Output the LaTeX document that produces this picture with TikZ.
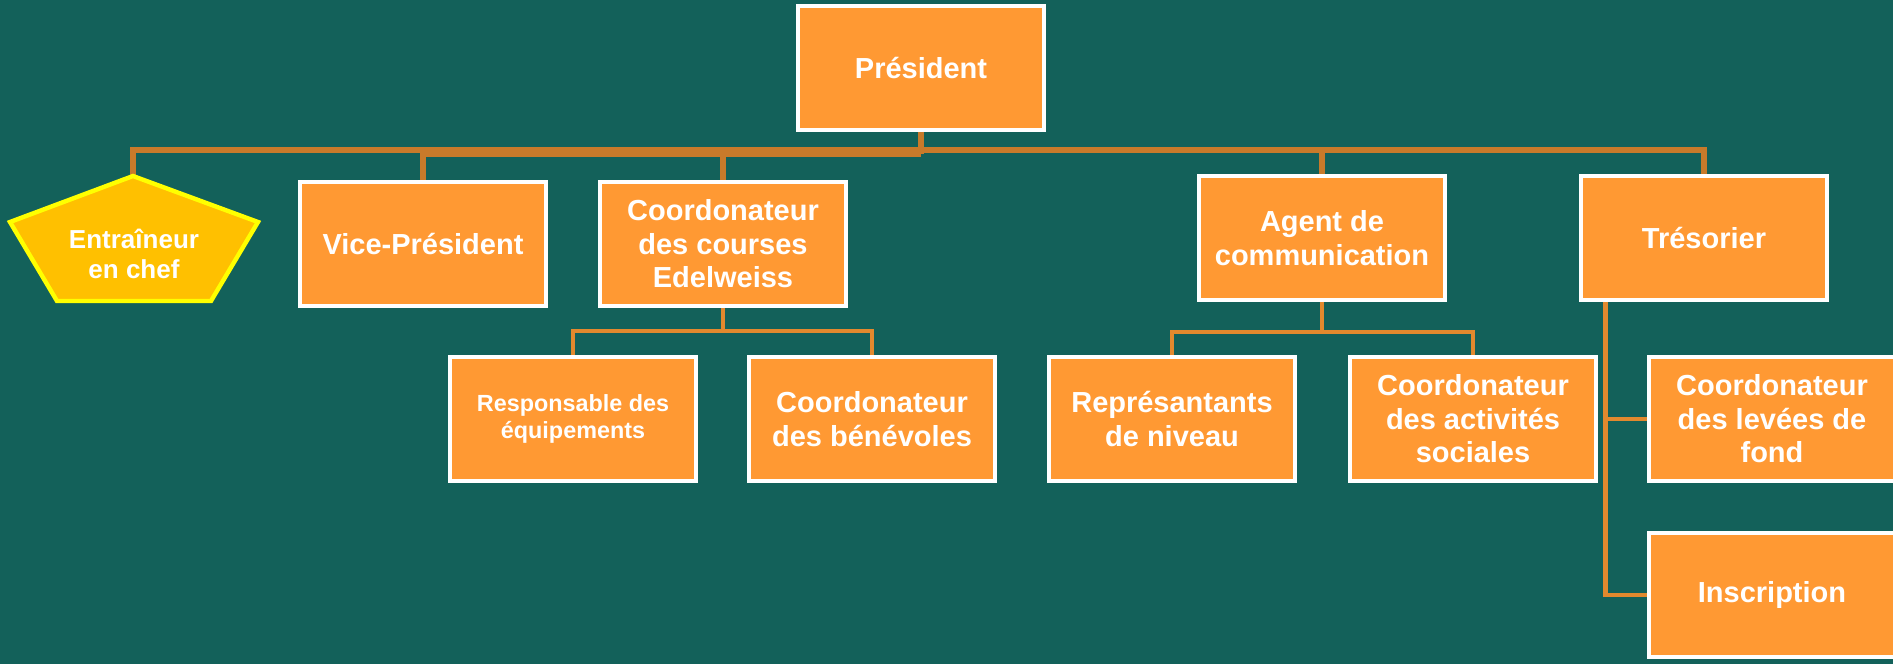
\documentclass[tikz,border=0pt]{standalone}
\usepackage{fontspec}
\setmainfont{Liberation Sans}
\usepackage{tikz}
\definecolor{boardteal}{RGB}{19,97,90}
\definecolor{postorange}{RGB}{255,153,51}
\definecolor{linkbrown}{RGB}{200,122,42}
\definecolor{linkorange}{RGB}{226,137,46}
\definecolor{coachgold}{RGB}{255,192,0}
\definecolor{coachedge}{RGB}{255,255,0}
\pgfdeclarelayer{board}
\pgfdeclarelayer{links}
\pgfsetlayers{board,links,main}
\tikzstyle{postbox} = [rectangle, fill=postorange, draw=white, line width=2.5pt, minimum width=4.93cm, minimum height=2.48cm, inner sep=2pt, align=center, text=white, font=\bfseries\fontsize{16.5}{19}\selectfont]
\tikzstyle{smalltext} = [font=\bfseries\fontsize{13.3}{15}\selectfont]
\tikzstyle{coachshape} = [fill=coachgold, draw=coachedge, line width=2.5pt, line join=miter]
\tikzstyle{coachtext} = [align=center, text=white, font=\bfseries\fontsize{14.8}{17}\selectfont]
\tikzstyle{topbus} = [draw=linkbrown, line width=3pt]
\tikzstyle{subbus} = [draw=linkorange, line width=2.4pt]
\newcommand{\rolebox}[3]{\node [postbox] (#1) at #2 {#3};}

\begin{document}
\begin{tikzpicture}[x=0.02cm, y=-0.02cm]
            \begin{pgfonlayer}{board}
            \fill[boardteal] (0,0) rectangle (1893,664);
            \end{pgfonlayer}
            \useasboundingbox (0,0) rectangle (1893,664);
            \rolebox{pres}{(921,68)}{Président}
            \rolebox{vp}{(423,244)}{Vice-Président}
            \rolebox{cc}{(723,244)}{Coordonateur\\des courses\\Edelweiss}
            \rolebox{agent}{(1322,238)}{Agent de\\communication}
            \rolebox{treso}{(1704,238)}{Trésorier}
            \node [postbox, smalltext] (resp) at (573,419) {Responsable des\\équipements};
            \rolebox{benev}{(872,419)}{Coordonateur\\des bénévoles}
            \rolebox{repr}{(1172,419)}{Représantants\\de niveau}
            \rolebox{social}{(1473,419)}{Coordonateur\\des activités\\sociales}
            \rolebox{levees}{(1772,419)}{Coordonateur\\des levées de\\fond}
            \rolebox{inscr}{(1772,595)}{Inscription}
            % entraineur
            \filldraw[coachshape] (133,176) coordinate (coachtop) -- (258,222) -- (211,301) -- (57,301) -- (10,222) -- cycle;
            \node [coachtext] (coach) at (134,254) {Entraîneur\\en chef};
            \coordinate (bus) at (921,150);
            \coordinate (bustwo) at (921,154);
            \coordinate (ccbus) at (723,331);
            \coordinate (agentbus) at (1322,332);
            \coordinate (tresoleg) at ([xshift=0.54cm]treso.south west);
            \begin{pgfonlayer}{links}
            \draw[topbus] (coachtop) |- (bus) -| (treso.north);
            \draw[topbus] (pres.south) -- (bustwo);
            \draw[topbus] (vp.north) |- (bustwo);
            \draw[topbus] (cc.north) -- (cc.north |- bustwo);
            \draw[topbus] (agent.north) -- (agent.north |- bus);
            \draw[subbus] (cc.south) -- (ccbus);
            \draw[subbus] (resp.north) |- (ccbus) -| (benev.north);
            \draw[subbus] (agent.south) -- (agentbus);
            \draw[subbus] (repr.north) |- (agentbus) -| (social.north);
            \draw[subbus] (tresoleg) |- (inscr.west);
            \draw[subbus] (levees.west) -| (tresoleg);
            \end{pgfonlayer}
\end{tikzpicture}
\end{document}
